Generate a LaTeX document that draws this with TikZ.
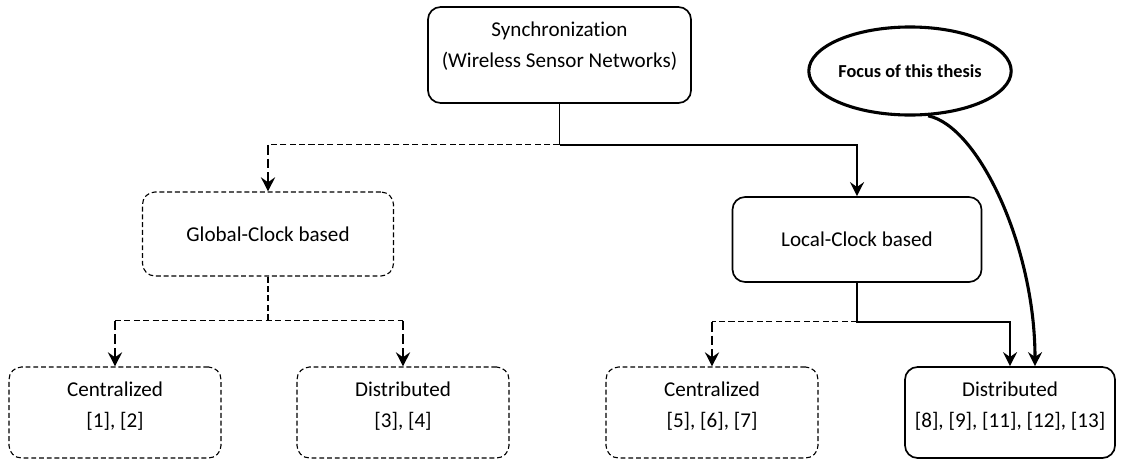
\documentclass[tikz,border=0pt]{standalone}
\usepackage{fontspec}
\setmainfont{Carlito}[Ligatures=NoCommon]
\usetikzlibrary{arrows.meta,shapes.geometric,positioning,calc}
\tikzstyle{box} = [rectangle, rounded corners=9pt, draw=black, line width=1.2pt, align=center, inner sep=0pt, font=\fontsize{15}{22}\selectfont]
\tikzstyle{dbox} = [box, line width=0.8pt, dash pattern=on 3.5pt off 2pt]
\tikzstyle{txt} = [align=center, inner sep=0pt, font=\fontsize{15}{22}\selectfont]
\tikzstyle{sline} = [line width=1.4pt]
\tikzstyle{dline} = [line width=0.9pt, dash pattern=on 4.3pt off 2.4pt]
\tikzstyle{arrow} = [line width=1.4pt,-{Stealth[length=10pt,width=10pt,inset=3.5pt]}]
\tikzstyle{tarrow} = [arrow, line width=1.8pt]
\tikzstyle{darrow} = [line width=1.6pt, dash pattern=on 7pt off 2.8pt,-{Stealth[length=10pt,width=10pt,inset=3.5pt]}]
\tikzstyle{focus} = [ellipse, draw=black, line width=2.2pt, minimum width=4.9cm, minimum height=2.2cm, inner sep=0pt, font=\fontsize{13}{16}\selectfont\bfseries]

\begin{document}
\begin{tikzpicture}[x=0.025cm, y=-0.025cm]
      \useasboundingbox (0,0) rectangle (1122,461);
      % top level
      \node[box, minimum width=6.575cm, minimum height=2.4cm] (sync) at (559.5,55) {};
      \node[txt] (synctxt) at (559.5,46.5) {Synchronization\\(Wireless Sensor Networks)};
      \node[focus] (thesis) at (910,71) {Focus of this thesis};
      % clock types
      \node[dbox, minimum width=6.275cm, minimum height=2.1cm] (global) at (268,234) {Global-Clock based};
      \node[box, minimum width=6.225cm, minimum height=2.125cm] (local) at (857,239.5) {Local-Clock based};
      % leaves
      \node[dbox, minimum width=5.3cm, minimum height=2.275cm] (cen1) at (115,412.5) {};
      \node[dbox, minimum width=5.3cm, minimum height=2.275cm] (dis1) at (403,412.5) {};
      \node[dbox, minimum width=5.3cm, minimum height=2.275cm] (cen2) at (712,412.5) {};
      \node[box, minimum width=5.25cm, minimum height=2.275cm] (dis2) at (1010,412.5) {};
      \node[txt] (cen1txt) at (115,406) {Centralized\\{}[1], [2]};
      \node[txt] (dis1txt) at (403,406) {Distributed\\{}[3], [4]};
      \node[txt] (cen2txt) at (712,406) {Centralized\\{}[5], [6], [7]};
      \node[txt] (dis2txt) at (1010,406) {Distributed\\{}[8], [9], [11], [12], [13]};
      % sync -> global / local
      \path (sync.south) ++(0,41) coordinate (j1);
      \draw[sline] (sync.south) -- (j1);
      \draw[dline] (j1) -- (j1 -| global.north) coordinate (g1);
      \draw[darrow] (g1) -- (global.north);
      \draw[arrow] (j1) -| (local.north);
      % global -> leaves
      \path (global.south) ++(0,44) coordinate (j2);
      \draw[dline] (global.south) -- (j2);
      \draw[dline] (j2 -| cen1.north) -- (j2 -| dis1.north);
      \draw[darrow] (j2 -| cen1.north) -- (cen1.north);
      \draw[darrow] (j2 -| dis1.north) -- (dis1.north);
      % local -> leaves
      \path (local.south) ++(0,39) coordinate (j3);
      \draw[tarrow] (local.south) -- (j3) -| (dis2.north);
      \draw[dline] (j3) -- (j3 -| cen2.north) coordinate (c2);
      \draw[darrow] (c2) -- (cen2.north);
      % thesis focus
      \draw[arrow, line width=2.2pt] (thesis.-68) .. controls +(50,10) and +(0,-120) .. ([xshift=0.625cm]dis2.north);
\end{tikzpicture}
\end{document}
